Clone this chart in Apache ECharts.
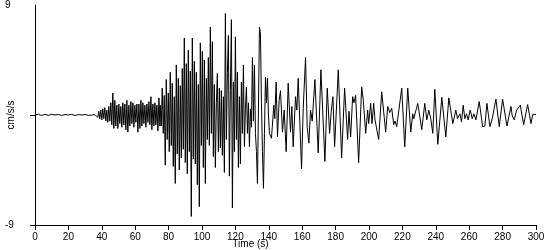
<!DOCTYPE html>
<html>
<head>
<meta charset="utf-8">
<script src="https://cdn.jsdelivr.net/npm/echarts@6/dist/echarts.min.js"></script>
<style>html,body{margin:0;padding:0;background:#fff;}#c{width:550px;height:250px;}</style>
</head>
<body>
<div id="c"></div>
<script>
// Pre-event baseline
const preTimes = [0,2,4,6,8,10,12,14,16,18,20,22,24,26,28,30,32,34,36];
const preAccel = [0,0.06,-0.04,0.05,-0.03,0.06,0,0.05,-0.04,0.04,0,0.05,-0.04,0.03,0,0.04,-0.03,0,0.02];

// P-wave onset
const pTimes = [37.0,37.6,38.2,38.8,39.4,40.0,40.6,41.2,41.8,42.4,43.0,43.6,44.2,44.8,45.4,46.0,46.6,47.2,47.8,48.4,49.0,49.6,50.2,50.8,51.4,52.0,52.6,53.2,53.8,54.4,55.0,55.6,56.2,56.8,57.4,58.0,58.6,59.2,59.8,60.4,61.0,61.6,62.2,62.8,63.4,64.0,64.6,65.2,65.8,66.4,67.0,67.6,68.2,68.8,69.4,70.0,70.6,71.2,71.8,72.4,73.0,73.6,74.2,74.8];
const pAccel = [0.1,-0.2,0.3,-0.3,0.4,-0.4,0.5,-0.3,0.6,-0.5,0.4,-0.6,0.7,-0.5,1.0,-0.8,1.8,-1.1,1.2,-0.9,0.8,-1.1,0.9,-0.7,0.7,-1.0,1.0,-0.8,0.9,-1.2,1.2,-1.4,0.8,-0.9,1.1,-0.7,1.0,-1.0,0.8,-0.6,0.9,-1.4,0.9,-1.1,1.2,-0.9,1.0,-0.7,0.8,-1.0,0.9,-0.6,1.1,-0.8,1.5,-1.2,0.9,-0.9,1.0,-0.8,0.8,-1.3,1.4,-0.9];

// Strong motion
const sTimes = [75.0,75.6,76.2,76.8,77.4,78.0,78.6,79.2,79.8,80.4,81.0,81.6,82.2,82.8,83.4,84.0,84.6,85.2,85.8,86.4,87.0,87.6,88.2,88.8,89.4,90.0,90.6,91.2,91.8,92.4,93.0,93.6,94.2,94.8,95.4,96.0,96.6,97.2,97.8,98.4,99.0,99.6,100.2,100.8,101.4,102.0,102.6,103.2,103.8,104.4,105.0,105.6,106.2,106.8,107.4,108.0,108.6,109.2,109.8,110.4,111.0,111.6,112.2,112.8,113.4,114.0,114.6,115.2,115.8,116.4,117.0,117.6,118.2,118.8,119.4,120.0,120.6,121.2,121.8,122.4,123.0,123.6,124.2,124.8,125.4,126.0,126.6,127.2,127.8,128.4,129.0,129.6,130.2,130.8,131.4,132.0,132.6,133.2,133.8,134.4,135.0,135.6,136.2,136.8,137.4,138.0,138.6,139.2,139.8,140.4];
const sAccel = [0.8,-0.9,2.2,-1.5,1.6,-4.1,2.9,-2.0,1.8,-3.0,3.5,-2.5,2.6,-4.2,1.5,-5.6,4.1,-3.2,3.0,-4.5,2.4,-3.5,3.8,-2.8,6.3,-3.9,4.2,-4.8,5.3,-3.0,3.6,-8.3,6.3,-3.6,4.4,-4.0,3.5,-5.7,2.5,-7.5,5.9,-2.5,5.2,-4.3,4.5,-5.6,3.0,-2.0,4.7,-2.5,7.2,-1.5,6.0,-3.4,2.5,-4.3,1.0,3.4,-3.0,2.2,-2.7,2.0,-3.3,1.5,-4.7,8.3,-2.0,3.5,6.5,-5.0,2.0,7.8,-7.6,2.7,-3.0,6.4,-2.0,3.5,-4.3,1.5,-4.0,2.7,-1.5,4.1,-2.6,0.5,2.3,-1.5,1.0,-2.6,0.5,-1.0,4.7,-0.5,4.1,-1.5,-3.0,-5.6,0.5,7.2,6.7,1.0,-3.0,-6.0,-1.5,3.1,1.0,3.0,0.0,-1.5];

// Coda
const cTimes = [141.6,143.0,143.6,144.4,145.2,146.2,147.0,148.2,149.2,150.4,151.6,153.0,153.8,154.6,156.0,156.8,157.6,159.6,160.6,162.0,163.0,164.0,165.0,166.0,167.6,169.6,171.2,173.6,175.0,176.4,177.4,178.4,179.4,181.6,183.6,185.4,187.2,188.0,189.0,190.2,191.0,192.0,193.8,195.6,196.6,198.0,199.2,199.8,201.0,201.8,202.8,203.6,204.6,205.8,207.6,210.0,211.2,212.4,213.6,214.8,215.6,216.6,219.6,221.4,223.2,225.0,226.2,226.8,229.2,231.6,233.4,234.6,235.8,237.0,238.2,239.4,241.2,243.6,246.0,247.8,250.2,252.0,253.0,254.4,255.4,256.4,257.4,258.4,259.4,260.6,261.8,262.8,264.0,266.0,267.2,268.0,269.4,270.6,271.4,272.4,273.8,276.0,278.0,280.0,282.6,285.0,285.8,287.0,288.4,290.6,292.6,295.0,297.0,298.0,300.0];
const cAccel = [-1.9,0.8,-0.3,2.7,-1.8,1.2,2.0,-1.4,0.4,-3.0,2.6,-1.4,0.7,-2.6,1.5,0.4,3.0,-4.4,0.5,4.7,-1.0,-2.3,0.4,-0.5,2.9,-3.1,3.7,-3.8,2.2,-1.5,0.3,1.5,-2.6,3.7,-3.5,2.2,-2.0,0.3,-1.8,1.5,1.0,1.6,-3.9,2.3,1.2,-1.5,0.4,-0.7,0.95,-0.7,0.95,-0.4,-0.3,-2.0,1.9,-1.4,0.7,0.2,0.55,-0.8,-0.5,-0.95,2.2,-2.6,2.2,-1.4,0.1,-0.3,0.95,-1.2,0.95,-0.4,0.4,-0.3,-1.5,2.1,-2.4,1.45,-1.8,1.4,-0.7,0.4,-0.3,0.1,-0.55,0.8,-0.3,0.1,-0.4,0.4,-0.3,0.1,-0.4,1.1,-0.1,-0.95,-0.9,0.95,0.1,-0.95,-0.3,1.3,-0.95,1.3,-0.9,0.7,-0.1,-0.4,0.4,0.8,-0.8,0.85,-0.7,0.05,0.05];

const xTicks = {min: 0, max: 300, step: 20};
const yLabels = [-9, 9];
const yTickMarks = [-9, 0];

function zip(t, a) { return t.map((v, i) => [v, a[i]]); }
const data = [].concat(zip(preTimes, preAccel), zip(pTimes, pAccel), zip(sTimes, sAccel), zip(cTimes, cAccel));

const font = 'Liberation Sans, Arial, sans-serif';
const chart = echarts.init(document.getElementById('c'), null, {renderer: 'canvas'});
chart.setOption({
  animation: false,
  backgroundColor: '#fff',
  grid: {left: 35, right: 14, top: 5, bottom: 25, containLabel: false, outerBoundsMode: 'none'},
  xAxis: {
    type: 'value', min: xTicks.min, max: xTicks.max, interval: xTicks.step,
    name: 'Time (s)', nameLocation: 'middle', nameGap: 14, nameMoveOverlap: false,
    nameTextStyle: {color: '#000', fontSize: 10, fontFamily: font, padding: [0, 70, 0, 0]},
    axisLine: {onZero: false, lineStyle: {color: '#000', width: 1}},
    axisTick: {length: 5, lineStyle: {color: '#000', width: 1}},
    axisLabel: {color: '#000', fontSize: 10, fontFamily: font, margin: 7},
    splitLine: {show: false}
  },
  yAxis: {
    type: 'value', min: -9, max: 9, interval: 9,
    name: 'cm/s/s', nameLocation: 'middle', nameGap: 19, nameMoveOverlap: false,
    nameTextStyle: {color: '#000', fontSize: 10, fontFamily: font},
    axisLine: {lineStyle: {color: '#000', width: 1}},
    axisTick: {length: 5, customValues: yTickMarks, lineStyle: {color: '#000', width: 1}},
    axisLabel: {color: '#000', fontSize: 10, fontFamily: font, align: 'left', margin: 30, customValues: yLabels},
    splitLine: {show: false}
  },
  series: [{
    type: 'line', data: data, showSymbol: false, symbol: 'none',
    lineStyle: {color: '#000', width: 1}, sampling: null, clip: true
  }]
});
</script>
</body>
</html>
